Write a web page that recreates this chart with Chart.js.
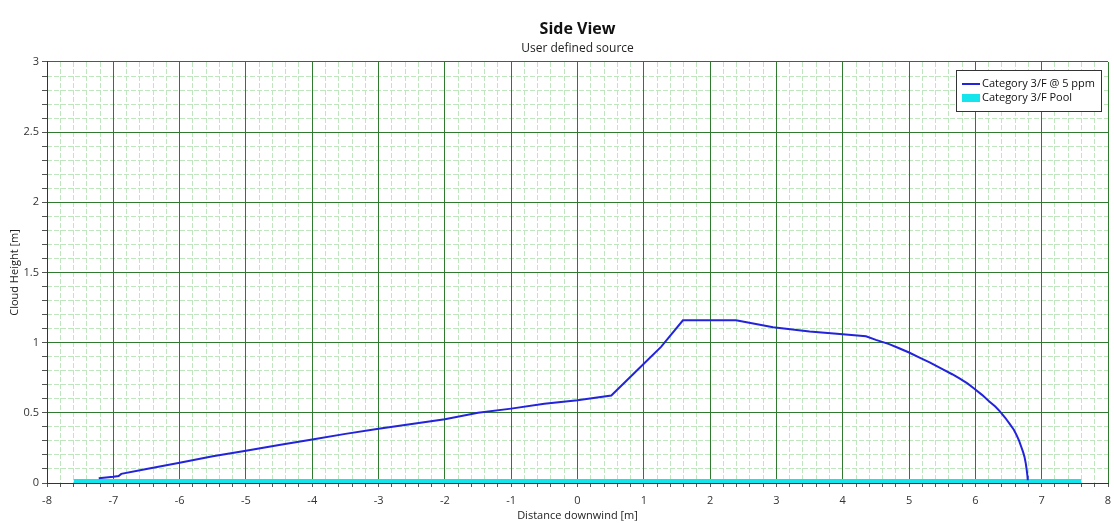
<!DOCTYPE html>
<html>
<head>
<meta charset="utf-8">
<script src="https://cdn.jsdelivr.net/npm/chart.js@4.4.1/dist/chart.umd.min.js"></script>
<style>
  html, body { margin: 0; padding: 0; background: #ffffff; }
  #wrap { width: 1114px; height: 523px; }
</style>
</head>
<body>
<div id="wrap"><canvas id="c" width="1114" height="523"></canvas></div>
<script>
// Cloud outline (5 ppm) seen from the side
const plumeDistance = [-7.22, -7.0, -6.92, -6.88, -6.5, -6.0, -5.5, -5.0, -4.5, -4.0, -3.5, -3.0, -2.5, -2.0, -1.5, -1.0, -0.5, 0.0, 0.51,
                       1.0, 1.26, 1.59, 2.39, 2.95, 3.5, 4.0, 4.35,
                       4.5, 4.7, 4.85, 5.0, 5.15, 5.31, 5.51, 5.65, 5.76, 5.88, 5.99, 6.1, 6.21, 6.3, 6.37, 6.45, 6.52,
                       6.58, 6.62, 6.66, 6.69, 6.72, 6.74, 6.76, 6.775, 6.785, 6.79];
const plumeHeight   = [0.034, 0.045, 0.05, 0.065, 0.10, 0.145, 0.19, 0.23, 0.27, 0.31, 0.35, 0.386, 0.42, 0.455, 0.50, 0.53, 0.565, 0.59, 0.624,
                       0.85, 0.97, 1.159, 1.159, 1.11, 1.08, 1.06, 1.045,
                       1.02, 0.99, 0.96, 0.93, 0.895, 0.86, 0.81, 0.775, 0.745, 0.71, 0.67, 0.628, 0.58, 0.545, 0.51, 0.465, 0.42,
                       0.38, 0.343, 0.30, 0.26, 0.22, 0.188, 0.14, 0.09, 0.05, 0.02];

// Pool footprint along the ground
const poolDistance = [-7.6, 7.6];
const poolHeight   = [0.028, 0.028];

// Axis ranges and steps
const xRange = [-8, 8];
const yRange = [0, 3];
const xMinorStep = 0.2;
const yMinorStep = 0.1;
const yLabelStep = 0.5;

const seriesNames = ['Category 3/F @ 5 ppm', 'Category 3/F Pool'];

const FONT = '"Open Sans", "Noto Sans", sans-serif';
const MAJOR_GRID = '#2f7a2f';
const MINOR_GRID = '#bfe6bf';
const AXIS_GREY = '#555555';

const toPoints = (xs, ys) => xs.map((x, i) => ({ x, y: ys[i] }));
const isMultiple = (v, step) => Math.abs(v / step - Math.round(v / step)) < 1e-6;

// Legend drawn as a framed box in the upper right corner of the plot
const boxLegend = {
  id: 'boxLegend',
  afterDraw(chart) {
    const { ctx, chartArea } = chart;
    const w = 146, h = 42;
    const x0 = Math.round(chartArea.right - 6 - w);
    const y0 = Math.round(chartArea.top + 8);
    ctx.save();
    ctx.fillStyle = '#ffffff';
    ctx.fillRect(x0, y0, w, h);
    ctx.strokeStyle = '#333333';
    ctx.lineWidth = 1;
    ctx.strokeRect(x0 + 0.5, y0 + 0.5, w - 1, h - 1);
    ctx.font = '11px ' + FONT;
    ctx.textBaseline = 'middle';
    chart.data.datasets.forEach((ds, i) => {
      const yy = y0 + 14 + i * 14;
      if (ds.fill) {
        ctx.fillStyle = ds.backgroundColor;
        ctx.fillRect(x0 + 6, yy - 4, 18, 8);
      } else {
        ctx.strokeStyle = ds.borderColor;
        ctx.lineWidth = 2;
        ctx.beginPath();
        ctx.moveTo(x0 + 6, yy);
        ctx.lineTo(x0 + 24, yy);
        ctx.stroke();
      }
      ctx.fillStyle = '#111111';
      ctx.fillText(ds.label, x0 + 26, yy);
    });
    ctx.restore();
  }
};

new Chart(document.getElementById('c'), {
  type: 'line',
  data: {
    datasets: [
      {
        label: seriesNames[0],
        data: toPoints(plumeDistance, plumeHeight),
        borderColor: '#2323dd',
        borderWidth: 2,
        pointRadius: 0,
        tension: 0,
        fill: false,
        order: 1
      },
      {
        label: seriesNames[1],
        data: toPoints(poolDistance, poolHeight),
        borderColor: 'rgba(0,0,0,0)',
        borderWidth: 0,
        backgroundColor: '#14e4ec',
        pointRadius: 0,
        fill: 'origin',
        order: 2
      }
    ]
  },
  plugins: [boxLegend],
  options: {
    responsive: false,
    animation: false,
    layout: { padding: { left: 0, right: 6, top: 0, bottom: 0 } },
    plugins: {
      legend: { display: false },
      tooltip: { enabled: false },
      title: {
        display: true,
        fullSize: false,
        text: 'Side View',
        color: '#111111',
        font: { family: FONT, size: 16, weight: 'bold', lineHeight: 1.2 },
        padding: { top: 19.4, bottom: 0 }
      },
      subtitle: {
        display: true,
        fullSize: false,
        text: 'User defined source',
        color: '#222222',
        font: { family: FONT, size: 12, lineHeight: 1.2 },
        padding: { top: 3, bottom: 6 }
      }
    },
    scales: {
      xMinor: {
        type: 'linear', position: 'bottom', min: xRange[0], max: xRange[1], z: -1,
        ticks: { display: false, stepSize: xMinorStep, autoSkip: false },
        grid: { color: MINOR_GRID, lineWidth: 1, drawTicks: false },
        border: { display: false, dash: [5, 2] },
        title: { display: false }
      },
      yMinor: {
        type: 'linear', position: 'left', min: yRange[0], max: yRange[1], z: -1,
        ticks: { display: false, stepSize: yMinorStep, autoSkip: false },
        grid: { color: MINOR_GRID, lineWidth: 1, drawTicks: false },
        border: { display: false, dash: [5, 2] },
        title: { display: false }
      },
      x: {
        type: 'linear', position: 'bottom', min: xRange[0], max: xRange[1],
        afterFit(scale) {
          scale.height = 40;
          scale.paddingLeft = 0;
          scale.paddingRight = 0;
        },
        ticks: {
          stepSize: xMinorStep, autoSkip: false, maxRotation: 0, padding: 7,
          color: '#333333', font: { family: FONT, size: 11 },
          callback: (v) => isMultiple(v, 1) ? String(Math.round(v)) : ''
        },
        grid: {
          color: (c) => isMultiple(c.tick.value, 1) ? MAJOR_GRID : 'rgba(0,0,0,0)',
          tickColor: AXIS_GREY, tickLength: 4, lineWidth: 1
        },
        border: { display: true, color: '#333333', width: 1 },
        title: {
          display: true, text: 'Distance downwind [m]', color: '#222222',
          font: { family: FONT, size: 11 }, padding: { top: 0, bottom: 1 }
        }
      },
      y: {
        type: 'linear', position: 'left', min: yRange[0], max: yRange[1],
        afterFit(scale) { scale.width = 47; },
        ticks: {
          stepSize: yMinorStep, autoSkip: false, padding: 3,
          color: '#333333', font: { family: FONT, size: 11 },
          callback: (v) => isMultiple(v, yLabelStep) ? String(Math.round(v * 10) / 10) : ''
        },
        grid: {
          color: (c) => c.tick.value >= yRange[1] - 1e-6 ? AXIS_GREY : (isMultiple(c.tick.value, yLabelStep) ? MAJOR_GRID : 'rgba(0,0,0,0)'),
          tickColor: AXIS_GREY, tickLength: 5, lineWidth: 1
        },
        border: { display: true, color: '#333333', width: 1 },
        title: {
          display: true, text: 'Cloud Height [m]', color: '#222222',
          font: { family: FONT, size: 11 }, padding: { top: 8.5, bottom: 0 }
        }
      }
    }
  }
});
</script>
</body>
</html>
